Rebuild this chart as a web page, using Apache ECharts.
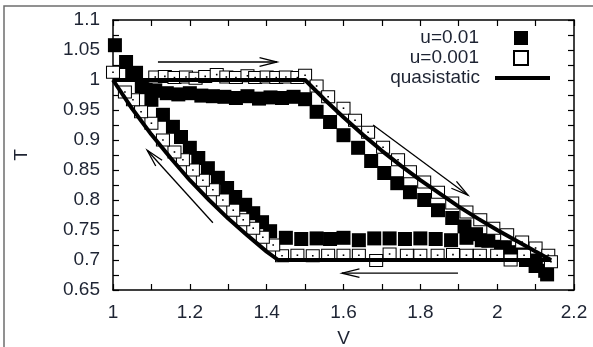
<!DOCTYPE html>
<html>
<head>
<meta charset="utf-8">
<script src="https://cdn.jsdelivr.net/npm/echarts@6/dist/echarts.min.js"></script>
<style>
html,body{margin:0;padding:0;background:#fff;}
#chart{width:593px;height:347px;}
</style>
</head>
<body>
<div id="chart"></div>
<script>
// ---- Data ----
const seriesNames = ['u=0.01', 'u=0.001', 'quasistatic'];

// u = 0.01 (filled squares)
const fastV = [1.005,1.034,1.06,
  1.085,1.11,1.14,1.17,1.20,1.23,1.26,1.29,1.32,1.35,1.38,1.41,1.44,1.47,1.50,
  1.53,1.565,1.60,1.638,1.672,1.706,1.74,1.773,1.81,1.846,1.883,1.915,1.945,1.977,2.01,2.04,2.075,2.10,2.125,2.13,
  2.10,2.06,2.02,1.96,1.92,1.88,1.84,1.80,1.76,1.72,1.68,1.64,1.60,1.565,1.53,1.49,1.45,
  1.409,1.388,1.365,1.344,1.318,1.297,1.273,1.247,1.222,1.20,1.177,1.156,1.13,1.10,1.075,1.05];
const fastT = [1.058,1.03,1.012,
  0.988,0.982,0.978,0.976,0.978,0.974,0.973,0.972,0.970,0.973,0.969,0.971,0.970,0.972,0.968,
  0.947,0.93,0.908,0.887,0.865,0.845,0.828,0.813,0.80,0.783,0.77,0.756,0.743,0.732,0.722,0.713,0.70,0.69,0.682,0.676,
  0.70,0.712,0.72,0.733,0.737,0.733,0.735,0.736,0.735,0.736,0.736,0.733,0.737,0.735,0.736,0.735,0.737,
  0.748,0.763,0.778,0.792,0.805,0.82,0.837,0.853,0.87,0.887,0.905,0.922,0.942,0.967,0.99,1.01];

// u = 0.001 (open squares)
const slowV = [1.0,
  1.11,1.135,1.16,1.19,1.215,1.24,1.27,1.295,1.32,1.35,1.37,1.40,1.425,1.45,1.48,
  1.50,1.53,1.56,1.60,1.63,1.664,1.703,1.742,1.773,1.81,1.846,1.883,1.92,1.956,1.99,2.026,2.065,2.10,2.133,2.14,
  2.07,2.035,2.0,1.955,1.92,1.885,1.845,1.80,1.765,1.72,1.685,1.64,1.60,1.56,1.52,1.48,1.44,
  1.417,1.39,1.365,1.339,1.313,1.286,1.26,1.234,1.208,1.182,1.16,1.13,1.10,1.073,1.052,1.031];
const slowT = [1.013,
  1.005,1.006,1.004,1.005,1.003,1.006,1.009,1.005,1.004,1.007,1.004,1.005,1.004,1.005,1.004,
  1.008,0.99,0.972,0.953,0.933,0.913,0.888,0.867,0.847,0.83,0.813,0.795,0.78,0.767,0.753,0.742,0.73,0.72,0.708,0.697,
  0.708,0.70,0.708,0.708,0.708,0.709,0.708,0.708,0.708,0.71,0.699,0.708,0.708,0.708,0.707,0.708,0.707,
  0.725,0.738,0.753,0.767,0.783,0.80,0.817,0.833,0.85,0.867,0.88,0.90,0.928,0.947,0.967,0.98];

// quasistatic cycle (thick line)
const quasiV = [1.0,1.5,1.55,1.6,1.65,1.7,1.75,1.8,1.85,1.9,1.95,2.0,2.05,2.1,2.14,1.43,1.4,1.35,1.3,1.25,1.2,1.15,1.1,1.05,1.0];
const quasiT = [1.0,1.0,0.968,0.938,0.909,0.882,0.857,0.833,0.811,0.789,0.769,0.75,0.732,0.714,0.70,0.70,0.714,0.741,0.769,0.80,0.833,0.87,0.909,0.952,1.0];

// direction arrows: [V start, T start, V end, T end]
const arrowFromV = [1.117, 1.677, 1.898, 1.26];
const arrowFromT = [1.03, 0.925, 0.678, 0.762];
const arrowToV = [1.427, 1.924, 1.596, 1.089];
const arrowToT = [1.03, 0.808, 0.678, 0.883];

// axes
const xMin = 1, xMax = 2.2, xStep = 0.2;
const yMin = 0.65, yMax = 1.1, yStep = 0.05;
const xName = 'V', yName = 'T';

// ---- build ----
const zip = (a, b) => a.map((v, i) => [v, b[i]]);
const fastData = zip(fastV, fastT);
const slowData = zip(slowV, slowT);
const quasiData = zip(quasiV, quasiT);
const arrowData = arrowFromV.map((v, i) => [v, arrowFromT[i], arrowToV[i], arrowToT[i]]);

const FONT = 'Liberation Sans, Arial, sans-serif';
const TXT = '#1e2433';
const FS = 19;
const axisLine = {show: true, onZero: false, lineStyle: {color: '#000', width: 1.5}};
const tick = {show: true, inside: true, length: 6, lineStyle: {color: '#000', width: 1.2}};
const minor = {show: true, splitNumber: 2, length: 6, lineStyle: {color: '#000', width: 1.2}};

const chart = echarts.init(document.getElementById('chart'), null, {renderer: 'canvas'});
chart.setOption({
  animation: false,
  backgroundColor: '#fff',
  textStyle: {fontFamily: FONT},
  graphic: [{
    type: 'rect', shape: {x: 4, y: 6, width: 640, height: 400},
    style: {fill: null, stroke: '#6d6d6d', lineWidth: 1.5}, silent: true, z: -1
  }],
  grid: {left: 113, right: 19, top: 20, bottom: 57, containLabel: false, outerBoundsMode: 'none'},
  xAxis: [{
    type: 'value', min: xMin, max: xMax, interval: xStep, position: 'bottom',
    name: xName, nameLocation: 'middle', nameGap: 39,
    nameTextStyle: {fontSize: FS, color: TXT, fontFamily: FONT},
    axisLine: axisLine, axisTick: tick, minorTick: minor, splitLine: {show: false},
    axisLabel: {fontSize: FS, color: TXT, margin: 13, fontFamily: FONT}
  }, {
    type: 'value', min: xMin, max: xMax, interval: xStep, position: 'top',
    axisLine: axisLine, axisTick: tick, minorTick: minor, splitLine: {show: false},
    axisLabel: {show: false}
  }],
  yAxis: [{
    type: 'value', min: yMin, max: yMax, interval: yStep, position: 'left',
    name: yName, nameLocation: 'middle', nameGap: 82,
    nameTextStyle: {fontSize: FS, color: TXT, fontFamily: FONT},
    axisLine: axisLine, axisTick: tick, minorTick: minor, splitLine: {show: false},
    axisLabel: {fontSize: FS, color: TXT, margin: 13, fontFamily: FONT}
  }, {
    type: 'value', min: yMin, max: yMax, interval: yStep, position: 'right',
    axisLine: axisLine, axisTick: tick, minorTick: minor, splitLine: {show: false},
    axisLabel: {show: false}
  }],
  legend: [{
    data: [seriesNames[0], seriesNames[1]],
    orient: 'vertical', align: 'right', right: 64, top: 28, padding: 0, itemGap: 0,
    itemWidth: 14, itemHeight: 14, selectedMode: false,
    textStyle: {fontSize: FS, color: TXT, fontFamily: FONT, lineHeight: 20, padding: [0, 30, 0, 0]}
  }, {
    data: [{name: seriesNames[2], icon: 'rect', itemStyle: {color: '#000'}}],
    orient: 'vertical', align: 'right', right: 43, top: 68, padding: 0,
    itemWidth: 55, itemHeight: 4, selectedMode: false,
    textStyle: {fontSize: FS, color: TXT, fontFamily: FONT, lineHeight: 20, padding: [0, 10, 0, 0]}
  }],
  series: [{
    name: seriesNames[0], type: 'scatter', data: fastData, symbol: 'rect', symbolSize: 14,
    clip: false, itemStyle: {color: '#000', opacity: 1}
  }, {
    name: seriesNames[1], type: 'scatter', data: slowData, symbol: 'rect', symbolSize: [13, 12],
    clip: false, itemStyle: {color: '#fff', borderColor: '#000', borderWidth: 1, opacity: 1}
  }, {
    name: 'dots', type: 'scatter', data: slowData, symbol: 'rect', symbolSize: 1.6,
    clip: false, silent: true, itemStyle: {color: '#000', opacity: 1}
  }, {
    name: seriesNames[2], type: 'line', data: quasiData, symbol: 'none', showSymbol: false,
    lineStyle: {color: '#000', width: 4}, itemStyle: {color: '#000'}
  }, {
    name: 'arrows', type: 'custom', data: arrowData, silent: true,
    encode: {x: [0, 2], y: [1, 3]},
    renderItem: function (params, api) {
      const p1 = api.coord([api.value(0), api.value(1)]);
      const p2 = api.coord([api.value(2), api.value(3)]);
      const ang = Math.atan2(p2[1] - p1[1], p2[0] - p1[0]);
      const L = 18, a = 0.24;
      const h1 = [p2[0] - L * Math.cos(ang - a), p2[1] - L * Math.sin(ang - a)];
      const h2 = [p2[0] - L * Math.cos(ang + a), p2[1] - L * Math.sin(ang + a)];
      return {type: 'group', children: [
        {type: 'line', shape: {x1: p1[0], y1: p1[1], x2: p2[0], y2: p2[1]}, style: {stroke: '#000', lineWidth: 1.3}},
        {type: 'polyline', shape: {points: [h1, p2, h2]}, style: {stroke: '#000', fill: null, lineWidth: 1.3}}
      ]};
    }
  }]
});
</script>
</body>
</html>
